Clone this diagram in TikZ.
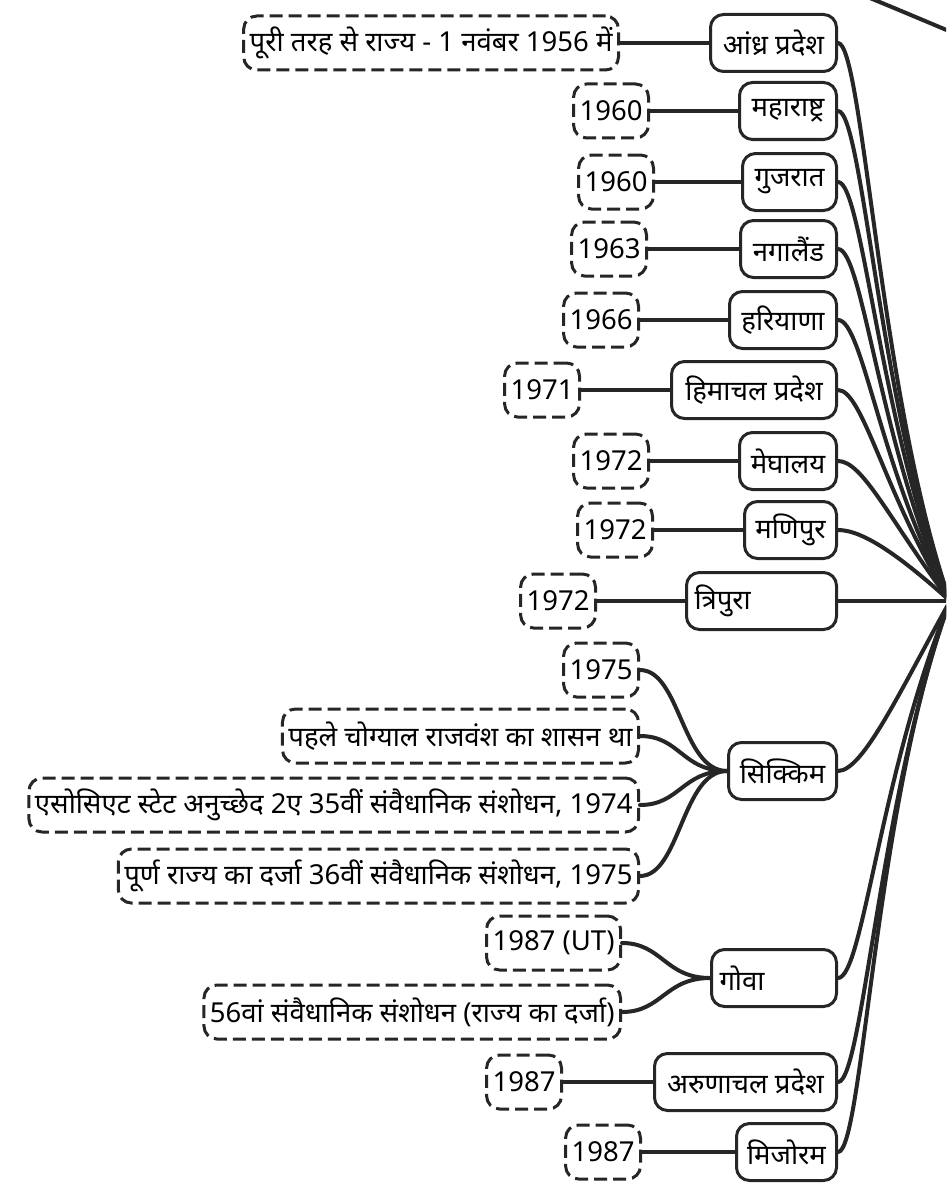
\documentclass[tikz,border=0pt]{standalone}
\usepackage{fontspec}
\newfontfamily\deva[Script=Devanagari]{Noto Sans}
\usetikzlibrary{positioning}
\definecolor{ink}{HTML}{262626}
\tikzstyle{rajya}=[draw=ink, line width=3pt, rounded corners=13pt, fill=white,
  text=black, anchor=east, minimum height=57pt, inner xsep=8pt,
  font=\deva\fontsize{27.5}{32}\selectfont]
\tikzstyle{tithi} = [rajya, minimum height=54pt, inner xsep=6pt,
  dash pattern=on 13pt off 6pt]
\tikzstyle{link} = [draw=ink, line width=4pt, line cap=round]
\newcommand{\rajyanode}[3]{node (#1) [rajya,#3] {#2}}
\newcommand{\tithinode}[2]{node (#1) [tithi] {#2}}

\begin{document}
\begin{tikzpicture}[x=1pt,y=-1pt]

  \useasboundingbox (0,0) rectangle (946,1188);
  \clip (0,0) rectangle (946,1188);

  % states column
  \path (838,43) \rajyanode{ANDHRA}{आंध्र प्रदेश}{minimum width=126pt};
  \path (ANDHRA.east)+(0,68) \rajyanode{MAHARASHTRA}{महाराष्ट्र}{minimum width=97pt};
  \path (MAHARASHTRA.east)+(0,71) \rajyanode{GUJARAT}{गुजरात}{minimum width=94pt};
  \path (GUJARAT.east)+(0,67) \rajyanode{NAGALAND}{नगालैंड}{minimum width=96pt};
  \path (NAGALAND.east)+(0,71) \rajyanode{HARYANA}{हरियाणा}{minimum width=107pt};
  \path (HARYANA.east)+(0,70) \rajyanode{HIMACHAL}{हिमाचल प्रदेश}{minimum width=165pt};
  \path (HIMACHAL.east)+(0,71) \rajyanode{MEGHALAYA}{मेघालय}{minimum width=97pt};
  \path (MEGHALAYA.east)+(0,69) \rajyanode{MANIPUR}{मणिपुर}{minimum width=92pt};
  \path (MANIPUR.east)+(0,71) \rajyanode{TRIPURA}{त्रिपुरा}{text width=134pt, align=left};
  \path (TRIPURA.east)+(0,170) \rajyanode{SIKKIM}{सिक्किम}{minimum width=108pt};
  \path (SIKKIM.east)+(0,207) \rajyanode{GOA}{गोवा}{text width=109pt, align=left};
  \path (GOA.east)+(0,104) \rajyanode{ARUNACHAL}{अरुणाचल प्रदेश}{minimum width=182pt};
  \path (ARUNACHAL.east)+(0,70) \rajyanode{MIZORAM}{मिजोरम}{minimum width=100pt};

  % years and notes
  \path (ANDHRA.east)+(-218,0) \tithinode{ANDHRAYR}{पूरी तरह से राज्य - 1 नवंबर 1956 में};
  \path (MAHARASHTRA.east)+(-188,0) \tithinode{MAHARASHTRAYR}{1960};
  \path (GUJARAT.east)+(-183,0) \tithinode{GUJARATYR}{1960};
  \path (NAGALAND.east)+(-190,0) \tithinode{NAGALANDYR}{1963};
  \path (HARYANA.east)+(-198,0) \tithinode{HARYANAYR}{1966};
  \path (HIMACHAL.east)+(-257,0) \tithinode{HIMACHALYR}{1971};
  \path (MEGHALAYA.east)+(-188,0) \tithinode{MEGHALAYAYR}{1972};
  \path (MANIPUR.east)+(-184,0) \tithinode{MANIPURYR}{1972};
  \path (TRIPURA.east)+(-241,0) \tithinode{TRIPURAYR}{1972};
  \path (SIKKIM.east)+(-198,-101) \tithinode{SIKKIMA}{1975};
  \path (SIKKIM.east)+(-198,-35) \tithinode{SIKKIMB}{पहले चोग्याल राजवंश का शासन था};
  \path (SIKKIM.east)+(-198,34) \tithinode{SIKKIMC}{एसोसिएट स्टेट अनुच्छेद 2ए 35वीं संवैधानिक संशोधन, 1974};
  \path (SIKKIM.east)+(-198,105) \tithinode{SIKKIMD}{पूर्ण राज्य का दर्जा 36वीं संवैधानिक संशोधन, 1975};
  \path (GOA.east)+(-216,-35) \tithinode{GOAA}{1987 (UT)};
  \path (GOA.east)+(-216,34) \tithinode{GOAB}{56वां संवैधानिक संशोधन (राज्य का दर्जा)};
  \path (ARUNACHAL.east)+(-275,0) \tithinode{ARUNACHALYR}{1987};
  \path (MIZORAM.east)+(-196,0) \tithinode{MIZORAMYR}{1987};

  \coordinate (HUB) at (950,601);
  \coordinate (UPPER) at (840,-14);
  \coordinate (PARENT) at (975,42);

  % year to state
  \path [link] (ANDHRAYR) -- (ANDHRA);
  \path [link] (MAHARASHTRAYR) -- (MAHARASHTRA);
  \path [link] (GUJARATYR) -- (GUJARAT);
  \path [link] (NAGALANDYR) -- (NAGALAND);
  \path [link] (HARYANAYR) -- (HARYANA);
  \path [link] (HIMACHALYR) -- (HIMACHAL);
  \path [link] (MEGHALAYAYR) -- (MEGHALAYA);
  \path [link] (MANIPURYR) -- (MANIPUR);
  \path [link] (TRIPURAYR) -- (TRIPURA);
  \foreach \leaf in {SIKKIMA,SIKKIMB,SIKKIMC,SIKKIMD}
    \path [link] (\leaf.east) .. controls +(40,0) and +(-45,0) .. (SIKKIM.west);
  \foreach \leaf in {GOAA,GOAB}
    \path [link] (\leaf.east) .. controls +(40,0) and +(-45,0) .. (GOA.west);
  \path [link] (ARUNACHALYR) -- (ARUNACHAL);
  \path [link] (MIZORAMYR) -- (MIZORAM);

  % states to hub
  \path [link] (ANDHRA.east) .. controls +(25,0) and +(-70,-200) .. (HUB);
  \path [link] (MAHARASHTRA.east) .. controls +(25,0) and +(-70,-185) .. (HUB);
  \path [link] (GUJARAT.east) .. controls +(25,0) and +(-70,-170) .. (HUB);
  \path [link] (NAGALAND.east) .. controls +(25,0) and +(-70,-150) .. (HUB);
  \path [link] (HARYANA.east) .. controls +(25,0) and +(-70,-130) .. (HUB);
  \path [link] (HIMACHAL.east) .. controls +(25,0) and +(-65,-105) .. (HUB);
  \path [link] (MEGHALAYA.east) .. controls +(25,0) and +(-60,-80) .. (HUB);
  \path [link] (MANIPUR.east) .. controls +(25,0) and +(-50,-45) .. (HUB);
  \path [link] (TRIPURA.east) -- (HUB);
  \path [link] (SIKKIM.east) .. controls +(25,0) and +(-50,90) .. (HUB);
  \path [link] (GOA.east) .. controls +(25,0) and +(-70,170) .. (HUB);
  \path [link] (ARUNACHAL.east) .. controls +(25,0) and +(-70,190) .. (HUB);
  \path [link] (MIZORAM.east) .. controls +(25,0) and +(-75,200) .. (HUB);
  \path [link] (UPPER) .. controls (880,2) .. (PARENT);

\end{tikzpicture}
\end{document}
